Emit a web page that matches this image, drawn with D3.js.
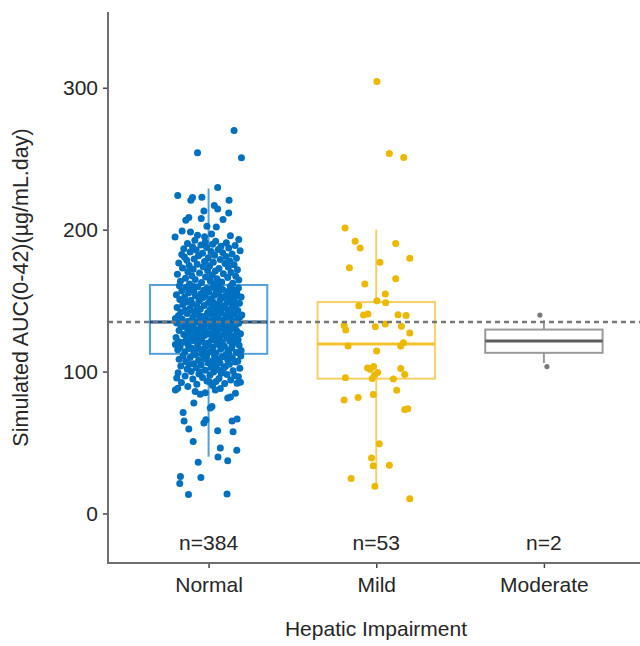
<!DOCTYPE html>
<html>
<head>
<meta charset="utf-8">
<script src="https://cdn.jsdelivr.net/npm/d3@7"></script>
<style>
  body { margin: 0; background: white; }
  svg { display: block; font-family: "Liberation Sans", Arial, sans-serif; }
</style>
</head>
<body>
<svg width="640" height="646"></svg>
<script>
// groups on the x axis
const categories = ['Normal', 'Mild', 'Moderate'];
const yTicks = [0, 100, 200, 300];
const referenceAuc = 135;

// box statistics (whisker low, Q1, median, Q3, whisker high)
const boxLow = [40, 19, 106];
const boxQ1 = [112.5, 95, 113.2];
const boxMedian = [135, 119.5, 121.6];
const boxQ3 = [161, 149, 129.6];
const boxHigh = [229, 200, 136];

// simulated AUC per subject: [auc, jitter (-1..1 of jitter width)]
const normalPoints = [
  // upper tail
  [269.9,0.76],[254.2,-0.33],[250.7,0.98],[229.8,0.27],[224,-0.92],[222.6,-0.48],[220.7,-0.53],[222.8,-0.20],[220.7,0.61],
  [217.1,0.17],[214.6,0.27],[213.1,-0.14],[211.8,0.60],[208.5,-0.59],[206.6,-0.68],[207.8,-0.22],[207.1,0.43],[202.4,-0.05],
  [199.1,-0.79],[198.4,-0.54],[201.9,0.23],[194.9,-1.0],[195.8,0.65],[193,0.90],[196,-0.33],[195,-0.12],[197,0.09],
  // lower tail
  [13.4,-0.60],[13.8,0.55],[26,-0.84],[21.1,-0.86],[25.3,-0.23],[36.1,-0.31],[39.8,0.28],[37.2,0.57],[46.2,0.35],[44.5,0.84],
  [50.8,-0.46],[59.5,-0.59],[58.3,0.27],[57.6,0.73],[65.1,-0.73],[71.2,-0.76],[63.7,-0.14],[66.1,-0.08],[65.1,0.70],[66.5,0.85],
  [74.3,0.05],[75.4,0.10],[77.8,-0.44],[81.3,0.57],[82,0.65],[87.1,-0.99],[88.3,-0.92],[84.8,0.80],[92.5,0.95],[91.8,0.85],
  [86,-0.40],[85,-0.10],[87,0.20],[88,0.35],[84,-0.25],
  // 89 - 112
  [89.5,-0.62],[90.2,0.12],[91.0,-0.35],[91.6,0.48],[92.3,-0.81],[93.0,0.22],[93.4,-0.05],[94.1,0.66],[94.8,-0.47],[95.2,0.31],
  [95.9,-0.18],[96.3,0.89],[96.8,-0.70],[97.4,0.04],[97.9,0.55],[98.3,-0.29],[98.8,0.38],[99.2,-0.91],[99.7,0.15],[100.1,-0.52],
  [100.6,0.73],[101.0,-0.10],[101.4,0.27],[101.9,-0.64],[102.3,0.93],[102.7,-0.37],[103.1,0.08],[103.6,0.50],[104.0,-0.83],[104.4,0.19],
  [104.8,-0.22],[105.2,0.62],[105.6,-0.45],[106.0,0.34],[106.3,-0.02],[106.7,0.80],[107.1,-0.68],[107.5,0.11],[107.8,-0.30],[108.2,0.57],
  [108.6,-0.88],[108.9,0.25],[109.3,-0.14],[109.6,0.71],[110.0,-0.55],[110.3,0.40],[110.6,-0.06],[110.9,0.96],[111.2,-0.76],[111.5,0.17],
  [111.8,-0.39],[112.1,0.52],[112.3,-0.20],[92.7,0.03],[95.5,-0.95],[97.0,0.78],[99.9,-0.26],[102.0,0.44],[105.0,-0.58],[107.3,0.87],
  [109.9,-0.12],
  // Q1 - median
  [112.8,-0.44],[113.1,0.21],[113.5,0.83],[113.9,-0.71],[114.2,0.05],[114.6,-0.16],[115.0,0.58],[115.3,-0.92],[115.7,0.36],[116.0,-0.27],[116.4,0.69],[116.7,-0.51],
  [117.1,0.13],[117.4,-0.85],[117.8,0.47],[118.1,-0.09],[118.5,0.91],[118.8,-0.61],[119.2,0.28],[119.5,-0.33],[119.9,0.74],[120.2,-0.02],[120.5,-0.78],[120.9,0.41],
  [121.2,-0.19],[121.5,0.63],[121.9,-0.48],[122.2,0.09],[122.5,0.88],[122.8,-0.66],[123.2,0.33],[123.5,-0.24],[123.8,0.56],[124.1,-0.97],[124.5,0.18],[124.8,-0.41],
  [125.1,0.72],[125.4,-0.12],[125.8,0.44],[126.1,-0.74],[126.4,0.01],[126.7,0.95],[127.0,-0.36],[127.4,0.26],[127.7,-0.57],[128.0,0.61],[128.3,-0.07],[128.6,0.84],
  [128.9,-0.88],[129.2,0.15],[129.5,-0.30],[129.8,0.50],[130.1,-0.63],[130.4,0.37],[130.7,-0.15],[131.0,0.79],[131.3,-0.45],[131.6,0.06],[131.9,-0.82],[132.2,0.53],
  [132.5,-0.23],[132.8,0.68],[133.1,-0.54],[133.4,0.20],[133.7,-0.04],[134.0,0.90],[134.3,-0.69],[134.6,0.31],[134.9,-0.38],[113.3,-0.06],[114.8,0.97],[116.2,-0.58],
  [117.6,0.39],[119.0,-0.99],[120.7,0.24],[122.0,-0.34],[123.6,0.78],[125.0,-0.55],[126.9,0.12],[128.5,-0.21],[130.0,0.66],[131.8,-0.73],[133.3,0.45],[134.5,0.02],
  [112.9,0.60],[115.5,-0.37],[118.3,0.70],[121.0,-0.89],[123.0,0.14],[125.6,-0.28],[127.9,0.85],[129.9,-0.50],[132.0,0.29],[134.2,-0.95],[118.9,0.00],[126.2,0.49],
  // median - Q3
  [135.2,0.35],[135.5,-0.61],[135.8,0.07],[136.1,0.82],[136.4,-0.26],[136.7,0.46],[137.0,-0.79],[137.3,0.19],[137.6,-0.08],[137.9,0.64],[138.2,-0.47],[138.5,0.93],
  [138.8,-0.17],[139.1,0.28],[139.4,-0.90],[139.7,0.54],[140.0,-0.31],[140.3,0.10],[140.6,0.76],[140.9,-0.64],[141.2,0.38],[141.5,-0.03],[141.8,-0.83],[142.1,0.59],
  [142.4,-0.42],[142.7,0.23],[143.0,0.87],[143.3,-0.70],[143.6,0.04],[143.9,-0.25],[144.2,0.67],[144.5,-0.56],[144.8,0.32],[145.1,-0.94],[145.4,0.15],[145.7,0.80],
  [146.0,-0.35],[146.3,0.43],[146.6,-0.13],[146.9,0.71],[147.2,-0.77],[147.5,0.26],[147.8,-0.49],[148.1,0.92],[148.4,-0.01],[148.7,0.55],[149.0,-0.66],[149.3,0.12],
  [149.6,-0.29],[149.9,0.77],[150.2,-0.53],[150.5,0.34],[150.8,-0.86],[151.1,0.06],[151.4,0.62],[151.7,-0.20],[152.0,0.40],[152.3,-0.72],[152.6,0.97],[152.9,-0.11],
  [153.2,0.50],[153.5,-0.39],[153.8,0.17],[154.1,-0.96],[154.4,0.69],[154.7,-0.24],[155.0,0.30],[155.3,-0.60],[155.6,0.84],[155.9,0.00],[156.2,-0.44],[156.5,0.58],
  [156.8,-0.80],[157.1,0.22],[157.4,-0.14],[157.7,0.73],[158.0,-0.52],[158.3,0.37],[158.6,-0.05],[158.9,0.89],[159.2,-0.67],[159.5,0.13],[159.8,-0.32],[160.1,0.65],
  [160.4,-0.87],[160.7,0.27],[137.4,-0.99],[139.9,0.99],[142.9,-0.58],[145.0,0.48],[147.9,0.08],[150.0,-0.75],[153.0,0.81],[155.4,-0.18],[157.9,0.42],[159.9,-0.45],
  // Q3 - 193
  [161.3,0.16],[161.8,-0.57],[162.2,0.72],[162.7,-0.21],[163.1,0.39],[163.6,-0.84],[164.0,0.05],[164.5,0.90],[164.9,-0.40],[165.4,0.25],[165.8,-0.69],[166.3,0.57],
  [166.7,-0.09],[167.2,0.81],[167.6,-0.50],[168.1,0.11],[168.5,-0.93],[169.0,0.44],[169.4,-0.27],[169.9,0.67],[170.3,-0.62],[170.8,0.20],[171.2,-0.03],[171.7,0.86],
  [172.1,-0.46],[172.6,0.31],[173.0,-0.78],[173.5,0.59],[173.9,-0.16],[174.4,0.03],[174.8,-0.58],[175.3,0.76],[175.7,-0.34],[176.2,0.49],[176.6,-0.89],[177.1,0.14],
  [177.5,-0.12],[178.0,0.63],[178.4,-0.65],[178.9,0.35],[179.3,-0.43],[179.8,0.83],[180.2,-0.01],[180.7,-0.72],[181.1,0.52],[181.6,-0.30],[182.0,0.18],[182.5,-0.80],
  [182.9,0.70],[183.4,-0.18],[183.8,0.42],[184.3,-0.55],[184.7,0.08],[185.2,0.94],[185.6,-0.37],[186.1,0.29],[186.5,-0.74],[187.0,0.60],[187.4,-0.06],[187.9,-0.48],
  [188.3,0.37],[188.8,0.79],[189.2,-0.23],[189.7,0.12],[190.2,-0.63],[190.7,0.53],[191.3,-0.10],[191.9,0.21],[192.5,-0.41]
];

const mildPoints = [
  [304.5,0.02],[253.7,0.39],[250.9,0.82],[201.2,-0.93],[191.8,-0.63],[187.0,-0.48],[190.2,0.58],[179.9,1.0],[177.1,0.11],
  [173.1,-0.80],[165.4,0.58],[161.8,-0.34],[154.6,0.27],[148.5,0.28],[146.4,-0.52],[139.8,-0.38],[140.5,-0.25],[140.1,0.65],
  [139.6,0.89],[132.6,-0.96],[129.3,-0.91],[131.6,-0.03],[133.5,0.27],[131.9,0.75],[127.2,1.0],[118.1,-0.84],[118.1,0.73],
  [120.4,0.81],[114.5,0.01],[102.6,-0.26],[103.5,-0.08],[101.7,-0.18],[99.3,0.04],[102.1,0.73],[97.9,0.85],[95.6,-0.92],
  [95.1,-0.12],[97.5,-0.05],[94.7,0.51],[86.9,0.61],[79.9,-0.96],[81.7,-0.54],[83.8,-0.09],[73.3,0.85],[73.8,0.94],
  [49.2,0.09],[39.1,-0.14],[33.7,-0.09],[33.9,0.39],[24.6,-0.75],[19.2,-0.04],[10.3,1.0],[150.0,0.02]
];

const moderatePoints = [[139.8,-0.12],[103.5,0.09]];

const groupPoints = [normalPoints, mildPoints, moderatePoints];
const pointColors = ['#0070C0', '#EDB800', '#7a7a7a'];
const boxColors = ['#55A0DA', '#F6D064', '#9a9a9a'];
const medianColors = ['#0f4f8c', '#F2C230', '#5e5e5e'];

const svg = d3.select('svg');
const svg_width = +svg.attr('width');

const plot = { left: 108, top: 12, bottom: 563, right: 640 };
const fontSize = 21;
const textColor = '#262626';

const xScale = d3.scalePoint()
  .domain(categories)
  .range([plot.left, 644.5])
  .padding(0.6);
const step = xScale.step();
const boxHalf = step * 0.35;
const jitterWidth = step * 0.2;

const yScale = d3.scaleLinear()
  .domain([-34.9, 353.4])
  .range([plot.bottom, plot.top]);

const boxes = categories.map((c, i) => ({
  cat: c, low: boxLow[i], q1: boxQ1[i], med: boxMedian[i], q3: boxQ3[i], high: boxHigh[i], i
}));

// boxes
const boxG = svg.append('g');
const bx = boxG.selectAll('g').data(boxes).enter().append('g');
bx.append('line')
  .attr('x1', d => xScale(d.cat)).attr('x2', d => xScale(d.cat))
  .attr('y1', d => yScale(d.q3)).attr('y2', d => yScale(d.high))
  .attr('stroke', d => boxColors[d.i]).attr('stroke-width', 2);
bx.append('line')
  .attr('x1', d => xScale(d.cat)).attr('x2', d => xScale(d.cat))
  .attr('y1', d => yScale(d.q1)).attr('y2', d => yScale(d.low))
  .attr('stroke', d => boxColors[d.i]).attr('stroke-width', 2);
bx.append('rect')
  .attr('x', d => xScale(d.cat) - boxHalf)
  .attr('width', boxHalf * 2)
  .attr('y', d => yScale(d.q3))
  .attr('height', d => yScale(d.q1) - yScale(d.q3))
  .attr('fill', 'white')
  .attr('stroke', d => boxColors[d.i])
  .attr('stroke-width', 2);
bx.append('line')
  .attr('x1', d => xScale(d.cat) - boxHalf).attr('x2', d => xScale(d.cat) + boxHalf)
  .attr('y1', d => yScale(d.med)).attr('y2', d => yScale(d.med))
  .attr('stroke', d => medianColors[d.i]).attr('stroke-width', 3);

// jittered points
const pts = [];
groupPoints.forEach((g, i) => g.forEach(p => pts.push({ cat: categories[i], auc: p[0], j: p[1], i })));
svg.append('g').selectAll('circle').data(pts).enter().append('circle')
  .attr('cx', d => xScale(d.cat) + d.j * jitterWidth)
  .attr('cy', d => yScale(d.auc))
  .attr('r', d => d.i === 2 ? 2.6 : 3.5)
  .attr('fill', d => pointColors[d.i]);

// reference line
svg.append('line')
  .attr('x1', plot.left).attr('x2', svg_width)
  .attr('y1', yScale(referenceAuc)).attr('y2', yScale(referenceAuc))
  .attr('stroke', '#777')
  .attr('stroke-width', 2.5)
  .attr('stroke-dasharray', '5,4');

// axes
const yAxisG = svg.append('g')
  .attr('transform', `translate(${plot.left},0)`)
  .call(d3.axisLeft(yScale).tickValues(yTicks).tickSize(5).tickPadding(5));
yAxisG.select('.domain').remove();
yAxisG.selectAll('.tick line').attr('stroke', '#444').attr('stroke-width', 1.5);
yAxisG.selectAll('.tick text')
  .attr('font-size', fontSize).attr('fill', textColor)
  .attr('font-family', '"Liberation Sans", Arial, sans-serif');

const xAxisG = svg.append('g')
  .attr('transform', `translate(0,${plot.bottom})`)
  .call(d3.axisBottom(xScale).tickSize(5).tickPadding(9));
xAxisG.select('.domain').remove();
xAxisG.selectAll('.tick line').attr('stroke', '#444').attr('stroke-width', 1.5);
xAxisG.selectAll('.tick text')
  .attr('font-size', fontSize).attr('fill', textColor)
  .attr('font-family', '"Liberation Sans", Arial, sans-serif');

svg.append('line')
  .attr('x1', plot.left).attr('x2', plot.left)
  .attr('y1', plot.top).attr('y2', plot.bottom + 1)
  .attr('stroke', '#6e6e6e').attr('stroke-width', 2);
svg.append('line')
  .attr('x1', plot.left - 1).attr('x2', svg_width)
  .attr('y1', plot.bottom).attr('y2', plot.bottom)
  .attr('stroke', '#6e6e6e').attr('stroke-width', 2);

// n labels
svg.append('g').selectAll('text').data(groupPoints).enter().append('text')
  .attr('x', (d, i) => xScale(categories[i]))
  .attr('y', yScale(-25.7))
  .attr('text-anchor', 'middle')
  .attr('font-size', fontSize)
  .attr('fill', textColor)
  .text(d => `n=${d.length}`);

// axis titles
svg.append('text')
  .attr('x', (plot.left + svg_width) / 2 + 2)
  .attr('y', 636)
  .attr('text-anchor', 'middle')
  .attr('font-size', fontSize)
  .attr('fill', textColor)
  .text('Hepatic Impairment');

svg.append('text')
  .attr('transform', `translate(28,${(plot.top + plot.bottom) / 2}) rotate(-90)`)
  .attr('text-anchor', 'middle')
  .attr('font-size', 21.5)
  .attr('fill', textColor)
  .text('Simulated AUC(0-42)(µg/mL.day)');
</script>
</body>
</html>
